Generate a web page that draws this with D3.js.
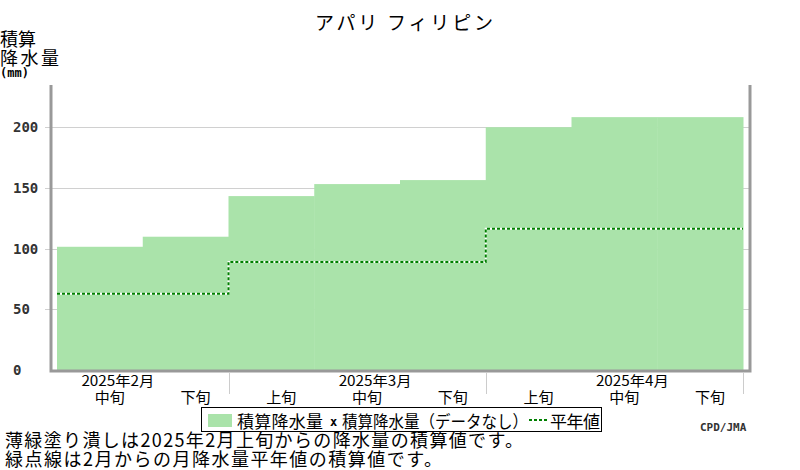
<!DOCTYPE html>
<html lang="ja">
<head>
<meta charset="utf-8" />
<title>アパリ フィリピン</title>
<script src="https://cdn.jsdelivr.net/npm/d3@7"></script>
<style>
  body { margin: 0; background: #fff; }
  text { font-family: "Noto Sans CJK JP", sans-serif; }
  .num { font-family: "DejaVu Sans Mono", monospace; font-weight: bold; fill: #333; }
</style>
</head>
<body>
<script>
// data
var months = ["2025年2月", "2025年3月", "2025年4月"];
var dekadMonth = [0, 0, 1, 1, 1, 2, 2, 2];
var dekadNames = ["中旬", "下旬", "上旬", "中旬", "下旬", "上旬", "中旬", "下旬"];
var cumPrecip = [101.6, 109.9, 143.4, 153.3, 156.6, 200.2, 208.5, 208.5];
var normalCum = [62.9, 62.9, 89.0, 89.0, 89.0, 116.5, 116.5, 116.5];
var yTicks = [0, 50, 100, 150, 200];

var w = 800, h = 470;
var svg = d3.select("body").append("svg")
  .attr("width", w)
  .attr("height", h);

var idx = d3.range(dekadNames.length);
var xScale = d3.scaleBand().domain(idx).range([57, 743]).padding(0);
var yScale = d3.scaleLinear().domain([0, 235]).range([370, 85]);

// gridlines + left ticks
svg.append("g").selectAll("line")
  .data(yTicks.filter(function(d) { return d > 0; }))
  .enter().append("line")
  .attr("x1", 45).attr("x2", 750)
  .attr("y1", function(d) { return Math.round(yScale(d)) + 0.5; })
  .attr("y2", function(d) { return Math.round(yScale(d)) + 0.5; })
  .attr("stroke", "#d0d0d0");

svg.append("g").selectAll("text")
  .data(yTicks)
  .enter().append("text")
  .attr("class", "num")
  .attr("x", 13)
  .attr("y", function(d) { return yScale(d) + 5; })
  .style("font-size", "14px")
  .text(function(d) { return d; });

// accumulated precipitation (filled steps)
svg.append("g").selectAll("rect")
  .data(idx)
  .enter().append("rect")
  .attr("x", function(i) { return xScale(i); })
  .attr("width", xScale.bandwidth() + 0.5)
  .attr("y", function(i) { return yScale(cumPrecip[i]); })
  .attr("height", function(i) { return yScale(0) - yScale(cumPrecip[i]); })
  .attr("fill", "#aae3aa");

// normal, stepped dotted line
var pts = idx.map(function(i) { return [xScale(i), yScale(normalCum[i])]; });
pts.push([xScale(idx.length - 1) + xScale.bandwidth(), yScale(normalCum[idx.length - 1])]);
var stepLine = d3.line().curve(d3.curveStepAfter);
svg.append("path").attr("d", stepLine(pts))
  .attr("fill", "none").attr("stroke", "#fff").attr("stroke-width", 2);
svg.append("path").attr("d", stepLine(pts))
  .attr("fill", "none").attr("stroke", "#008000").attr("stroke-width", 2)
  .attr("stroke-dasharray", "3,2");

// frame (left, bottom, right)
svg.append("path")
  .attr("d", "M51,85V371H750V85")
  .attr("fill", "none")
  .attr("stroke", "#999")
  .attr("stroke-width", 3);

// month separators
var sepX = [xScale(2), xScale(5), xScale(7) + xScale.bandwidth()];
svg.append("g").selectAll("line")
  .data(sepX)
  .enter().append("line")
  .attr("x1", function(d) { return Math.round(d) + 0.5; })
  .attr("x2", function(d) { return Math.round(d) + 0.5; })
  .attr("y1", 373).attr("y2", 394)
  .attr("stroke", "#ccc");

// dekad labels
svg.append("g").selectAll("text")
  .data(idx)
  .enter().append("text")
  .attr("x", function(i) { return xScale(i) + xScale.bandwidth() / 2 + 10; })
  .attr("y", 403)
  .attr("text-anchor", "middle")
  .style("font-size", "15px")
  .text(function(i) { return dekadNames[i]; });

// month labels, over the 中旬 of each month
svg.append("g").selectAll("text")
  .data(months)
  .enter().append("text")
  .attr("x", function(m, k) {
    var i = idx.filter(function(j) { return dekadMonth[j] === k && dekadNames[j] === "中旬"; })[0];
    return xScale(i) + xScale.bandwidth() / 2 + 18;
  })
  .attr("y", 386)
  .attr("text-anchor", "middle")
  .attr("textLength", 73).attr("lengthAdjust", "spacingAndGlyphs")
  .style("font-size", "14px")
  .text(function(m) { return m; });

// title
svg.append("text")
  .attr("x", 315).attr("y", 30)
  .attr("textLength", 178).attr("lengthAdjust", "spacing")
  .style("font-size", "19px")
  .text("アパリ フィリピン");

// y axis title
svg.append("text").attr("x", 0).attr("y", 46).style("font-size", "18px").text("積算");
svg.append("text").attr("x", 0).attr("y", 65)
  .attr("textLength", 59).attr("lengthAdjust", "spacing")
  .style("font-size", "18px").text("降水量");
svg.append("text").attr("x", 0).attr("y", 77)
  .attr("class", "num").style("font-size", "12px").style("fill", "#000").text("(mm)");

// legend
var lg = svg.append("g");
lg.append("rect").attr("x", 201.5).attr("y", 407.5).attr("width", 400).attr("height", 24)
  .attr("fill", "#fff").attr("stroke", "#000");
lg.append("rect").attr("x", 208).attr("y", 414).attr("width", 24).attr("height", 13)
  .attr("fill", "#aae3aa");
lg.append("text").attr("x", 237).attr("y", 428).style("font-size", "17px")
  .attr("textLength", 86).attr("lengthAdjust", "spacing").text("積算降水量");
lg.append("text").attr("x", 330).attr("y", 426).attr("class", "num")
  .style("font-size", "12px").style("fill", "#000").text("x");
lg.append("text").attr("x", 342).attr("y", 428).style("font-size", "17px")
  .attr("textLength", 186).attr("lengthAdjust", "spacingAndGlyphs").text("積算降水量（データなし）");
lg.append("line").attr("x1", 529).attr("x2", 547).attr("y1", 420).attr("y2", 420)
  .attr("stroke", "#008000").attr("stroke-width", 2).attr("stroke-dasharray", "3,2");
lg.append("text").attr("x", 550).attr("y", 428).style("font-size", "17px")
  .attr("textLength", 50).attr("lengthAdjust", "spacing").text("平年値");

// credit
svg.append("text").attr("x", 700).attr("y", 431)
  .attr("class", "num").style("font-size", "11px").text("CPD/JMA");

// notes
svg.append("text").attr("x", 5).attr("y", 447)
  .attr("textLength", 518).attr("lengthAdjust", "spacing")
  .style("font-size", "18px")
  .text("薄緑塗り潰しは2025年2月上旬からの降水量の積算値です。");
svg.append("text").attr("x", 5).attr("y", 466)
  .attr("textLength", 437).attr("lengthAdjust", "spacing")
  .style("font-size", "18px")
  .text("緑点線は2月からの月降水量平年値の積算値です。");
</script>
</body>
</html>
